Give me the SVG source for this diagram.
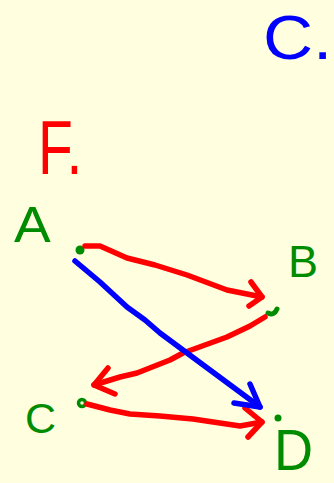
<svg xmlns="http://www.w3.org/2000/svg" width="334" height="483" viewBox="0 0 334 483">
<style>
.ln{fill:none;stroke-width:5.5;stroke-linecap:round;stroke-linejoin:round}
.red{stroke:#ff0000}
.blue{stroke:#0000ff}
.lbl{font-family:"Liberation Sans","DejaVu Sans",sans-serif}
.g{fill:#008c00}
</style>
<rect width="334" height="483" fill="#ffffe0"/>
<g id="label-F">
<text class="lbl" transform="translate(38,174) scale(0.75,1)" font-size="76" fill="#ff0000">F.</text>
</g>
<g id="label-C-top">
<text class="lbl" transform="translate(263,59) scale(1.1,1)" font-size="63" fill="#0000ff">C.</text>
</g>
<g id="node-A">
<text class="lbl g" transform="translate(14,242) scale(1.1,1)" font-size="50">A</text>
<circle class="g" cx="80" cy="250" r="4.5"/>
</g>
<g id="node-B">
<text class="lbl g" x="288" y="277" font-size="45">B</text>
<path d="M268,313 Q274,316 277,309" fill="none" stroke="#008c00" stroke-width="5" stroke-linecap="round"/>
</g>
<g id="node-C">
<text class="lbl g" x="25" y="433" font-size="43">C</text>
<circle cx="82" cy="403" r="3.5" fill="none" stroke="#008c00" stroke-width="3.5"/>
</g>
<g id="node-D">
<text class="lbl g" transform="translate(274,470) scale(0.95,1)" font-size="57">D</text>
<circle class="g" cx="278" cy="418" r="3.5"/>
</g>
<g id="connectors">
<path class="ln red" d="M85,246 L100,246 L127,258 L155,265 L187,275 L227,290 L262,297"/>
<path class="ln red" d="M251,282 L262,297 L249,306"/>
<path class="ln red" d="M265,317 L250,326 L227,337 L183,353 L170,360 L137,373 L120,377 L94,385"/>
<path class="ln red" d="M108,368 L94,385 L115,394"/>
<path class="ln red" d="M87,404 L110,410 L130,414 L160,416 L193,419 L240,426 L262,422"/>
<path class="ln red" d="M245,408 L262,422 L248,437"/>
<path class="ln blue" d="M75,261 L100,282 L127,307 L145,320 L160,333 L210,370 L260,407"/>
<path class="ln blue" stroke-width="6" d="M250,384 L260,407 L234,403"/>
</g>
</svg>
